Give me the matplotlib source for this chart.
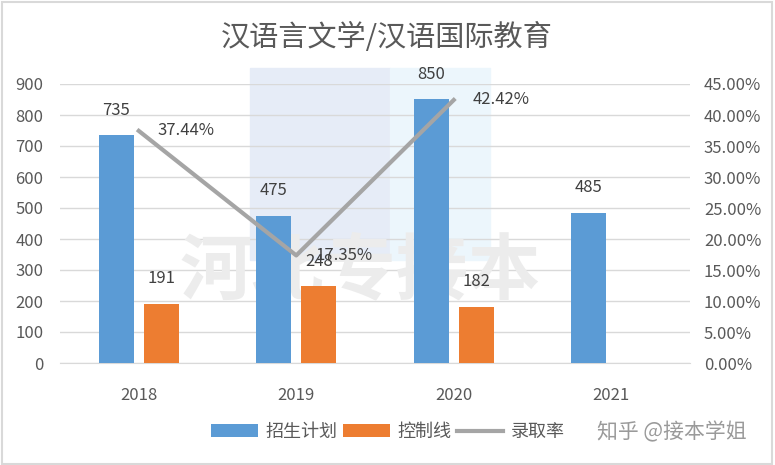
import numpy as np
import matplotlib.pyplot as plt
from matplotlib.patches import Rectangle

plt.rcParams['font.family'] = ['Noto Sans CJK SC', 'DejaVu Sans']

years = ['2018', '2019', '2020', '2021']
plan = [735, 475, 850, 485]
control = [191, 248, 182, None]
rate = [37.44, 17.35, 42.42]

blue = '#5b9bd5'
orange = '#ed7d31'
gray_line = '#a5a5a5'
text_gray = '#595959'

fig = plt.figure(figsize=(7.75, 4.65), dpi=100)
ax = fig.add_axes([60 / 775, 1 - 363 / 465, 630 / 775, 279 / 465])
ax2 = ax.twinx()

x = np.arange(len(years))
w = 0.222
off = 0.143

# faint watermark (logo block + text), behind the grid and bars
ax.add_patch(Rectangle((190 / 630, 103 / 279), 140 / 630, 192 / 279,
                       transform=ax.transAxes, color='#e6ecf7', zorder=0.2, clip_on=False))
ax.add_patch(Rectangle((330 / 630, 103 / 279), 100 / 630, 192 / 279,
                       transform=ax.transAxes, color='#ecf6fc', zorder=0.2, clip_on=False))
ax.text(300 / 630, 91 / 279, '河北专接本', transform=ax.transAxes,
        fontsize=52, fontweight='bold', color='#ececec', ha='center', va='center', zorder=1)

ax.bar(x - off, plan, width=w, color=blue, label='招生计划', zorder=3)
cx = [i for i, v in enumerate(control) if v is not None]
cv = [v for v in control if v is not None]
ax.bar(np.array(cx) + off, cv, width=w, color=orange, label='控制线', zorder=3)

for i, v in enumerate(plan):
    ax.text(i - off, v + 80, str(v), ha='center', va='center', fontsize=12, color='#404040', zorder=5)
for i, v in zip(cx, cv):
    ax.text(i + off, v + 80, str(v), ha='center', va='center', fontsize=12, color='#404040', zorder=5)

ax2.plot(x[:len(rate)], rate, color=gray_line, linewidth=3, label='录取率', zorder=4)
for i, v in enumerate(rate):
    ax2.text(i + 0.12, v, f'{v:.2f}%', ha='left', va='center', fontsize=12, color='#404040', zorder=5)

ax.set_xlim(-0.5, 3.5)
ax.set_ylim(0, 900)
ax.set_yticks(range(0, 901, 100))
ax2.set_ylim(0, 45)
ax2.set_yticks(range(0, 46, 5))
ax2.set_yticklabels([f'{t:.2f}%' for t in range(0, 46, 5)])
ax.set_xticks(x)
ax.set_xticklabels(years)

ax.grid(axis='y', color='#d9d9d9', linewidth=1)
ax.set_axisbelow(True)
for a in (ax, ax2):
    for s in a.spines.values():
        s.set_visible(False)
    a.tick_params(length=0, labelsize=12, labelcolor=text_gray)
ax.spines['bottom'].set_visible(True)
ax.spines['bottom'].set_color('#d9d9d9')
ax.tick_params(axis='y', pad=12)
ax.tick_params(axis='x', pad=17)
ax2.tick_params(axis='y', pad=10)
ax.patch.set_visible(False)

fig.text(387 / 775, 1 - 38 / 465, '汉语言文学/汉语国际教育', fontsize=21, fontweight='light',
         color=text_gray, ha='center', va='center')

h1, l1 = ax.get_legend_handles_labels()
h2, l2 = ax2.get_legend_handles_labels()
fig.legend(h1 + h2, l1 + l2, loc='center', bbox_to_anchor=(388 / 775, 1 - 432 / 465), ncol=3,
           frameon=False, fontsize=13, labelcolor=text_gray, handlelength=2.6,
           handletextpad=0.4, columnspacing=0.3)
fig.text(672 / 775, 1 - 432 / 465, '知乎 @接本学姐', fontsize=15, color='#9a9a9a',
         ha='center', va='center')

fig.patches.append(Rectangle((0.002, 0.003), 0.994, 0.992, transform=fig.transFigure,
                             fill=False, edgecolor='#d9d9d9', linewidth=1.5))

fig.savefig('out.png', dpi=100)
